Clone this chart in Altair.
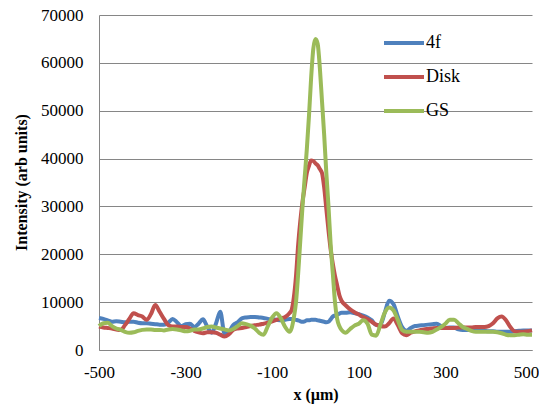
import altair as alt
import pandas as pd

# x positions (µm): step 10, with step 5 around the central peak
x_left = list(range(-500, -60, 10))
x_mid = list(range(-60, 61, 5))
x_right = list(range(70, 501, 10))
x_um = x_left + x_mid + x_right

series_names = ["4f", "Disk", "GS"]
series_colors = ["#4F81BD", "#C0504D", "#9BBB59"]

# values (arb units) per x position
blue_left = [6700, 6500, 6200, 5900, 6000, 5900, 5800, 5900, 5900, 5700,
             5600, 5600, 5500, 5400, 5300, 5300, 5700, 6500, 5800, 5000,
             5400, 5500, 4800, 5500, 6400, 4900, 3600, 5500, 8000, 3400,
             3800, 5200, 5800, 6600, 6800, 6900, 6900, 6800, 6700, 6500,
             6400, 6300, 6200, 6300]
blue_mid = [6500, 6500, 6400, 6300, 6200, 6000, 5900, 6000, 6200, 6200,
            6300, 6300, 6300, 6200, 6100, 6000, 5900, 5800, 5900, 6400,
            7000, 7200, 7400, 7600, 7800]
blue_right = [7800, 7900, 7700, 7500, 7200, 6800, 6200, 5200, 5300, 7800,
              10300, 9600, 7000, 4800, 4000, 4600, 5000, 5100, 5200, 5300,
              5400, 5500, 5000, 4600, 4700, 4700, 4300, 4200, 4200, 4200,
              4200, 4100, 4000, 3900, 3900, 3800, 3800, 3800, 3800, 3900,
              4000, 4100, 4100, 4100]

red_left = [4900, 4700, 4600, 4500, 4300, 4200, 5200, 6500, 7700, 7300,
            7000, 6300, 7500, 9400, 8000, 6500, 5200, 4900, 4900, 4800,
            4800, 4500, 4000, 3700, 3500, 3700, 3700, 3600, 3200, 2800,
            3300, 4200, 4500, 4600, 4800, 5000, 5200, 5300, 5500, 5700,
            6000, 6300, 6600, 6900]
red_mid = [7700, 8400, 11000, 15500, 22000, 27000, 31000, 34000, 37000, 38500,
           39600, 39500, 39000, 38600, 37800, 37000, 34000, 29500, 25000, 21000,
           18000, 15500, 13500, 11500, 10300]
red_right = [9300, 8500, 7900, 7400, 6900, 6500, 5900, 5300, 5000, 4900,
             5600, 6600, 5200, 3500, 3100, 3600, 3900, 4100, 4300, 4400,
             4500, 4600, 4600, 4600, 4600, 4600, 4700, 4700, 4700, 4700,
             4800, 4800, 4800, 5000, 5600, 6600, 7000, 6200, 4800, 3900,
             3800, 3800, 3900, 4100]

green_left = [5000, 5600, 5700, 5000, 4500, 4200, 3800, 3600, 3700, 4000,
              4200, 4300, 4300, 4200, 4200, 4100, 4300, 4400, 4300, 4100,
              3900, 4000, 4300, 4300, 4500, 4800, 4900, 4700, 4500, 4300,
              4100, 4400, 5000, 5600, 5400, 5100, 4500, 3600, 3200, 5000,
              6800, 7700, 6600, 4800]
green_mid = [3800, 4600, 6800, 10000, 16000, 23000, 30000, 36000, 42000, 49000,
             57000, 63000, 65000, 64000, 59000, 52000, 45000, 37000, 30000, 22000,
             16000, 10000, 6500, 5000, 4200]
green_right = [3600, 4400, 5100, 5500, 6200, 5500, 3200, 3000, 5300, 7800,
               8900, 8300, 6300, 4200, 3800, 3800, 3800, 3800, 3700, 3600,
               3800, 4300, 4800, 5500, 6300, 6300, 5600, 4800, 4400, 4000,
               3800, 3800, 3800, 3800, 3800, 3700, 3500, 3200, 3100, 3100,
               3200, 3300, 3200, 3200]

blue_vals = blue_left + blue_mid + blue_right
red_vals = red_left + red_mid + red_right
green_vals = green_left + green_mid + green_right

x_ticks = [-500, -300, -100, 100, 300, 500]
y_ticks = [0, 10000, 20000, 30000, 40000, 50000, 60000, 70000]

rows = []
for name, vals in zip(series_names, [blue_vals, red_vals, green_vals]):
    for xv, yv in zip(x_um, vals):
        rows.append({"x": xv, "y": yv, "series": name})
df = pd.DataFrame(rows)

FONT = "Liberation Serif"
GRID = "#868686"

chart = (
    alt.Chart(df)
    .mark_line(strokeWidth=4, interpolate="monotone")
    .encode(
        x=alt.X(
            "x:Q",
            scale=alt.Scale(domain=[-500, 500], nice=False),
            axis=alt.Axis(
                values=x_ticks,
                labelExpr="'' + datum.value",
                title="x (µm)",
                grid=False,
                ticks=False,
                labelPadding=14,
                titlePadding=6,
                domainColor=GRID,
                labelFlush=False,
                labelOffset={"condition": {"test": "datum.value == 500", "value": -6}, "value": 0},
                labelFont=FONT,
                labelFontSize=17,
                labelColor="black",
            ),
        ),
        y=alt.Y(
            "y:Q",
            scale=alt.Scale(domain=[0, 70000], nice=False),
            axis=alt.Axis(
                values=y_ticks,
                labelExpr="'' + datum.value",
                title="Intensity (arb units)",
                grid=True,
                gridColor=GRID,
                ticks=False,
                labelPadding=16,
                domainColor=GRID,
                titleX=-78,
                titleY=167,
                titleBaseline="middle",
                labelFont=FONT,
                labelFontSize=17,
                labelColor="black",
            ),
        ),
        color=alt.Color(
            "series:N",
            scale=alt.Scale(domain=series_names, range=series_colors),
            legend=alt.Legend(
                title=None,
                orient="none",
                legendX=283,
                legendY=6,
                symbolType="stroke",
                symbolSize=1600,
                symbolStrokeWidth=4,
                labelFontSize=18,
                labelFont=FONT,
                labelColor="black",
                labelOffset=0,
                rowPadding=3,
                padding=0,
            ),
        ),
    )
    .properties(width=433, height=335, padding={"left": 91, "top": 7, "right": 7, "bottom": 54})
    .configure(autosize=alt.AutoSizeParams(type="none"))
    .configure_axis(
        labelFont=FONT,
        labelFontSize=17,
        labelColor="black",
        titleFont=FONT,
        titleFontSize=16,
        titleFontWeight="bold",
        titleColor="black",
        domainWidth=1,
        gridWidth=1,
    )
    .configure_view(stroke=None)
)

chart.save("out.html", embed_options={"renderer": "svg", "actions": False})
